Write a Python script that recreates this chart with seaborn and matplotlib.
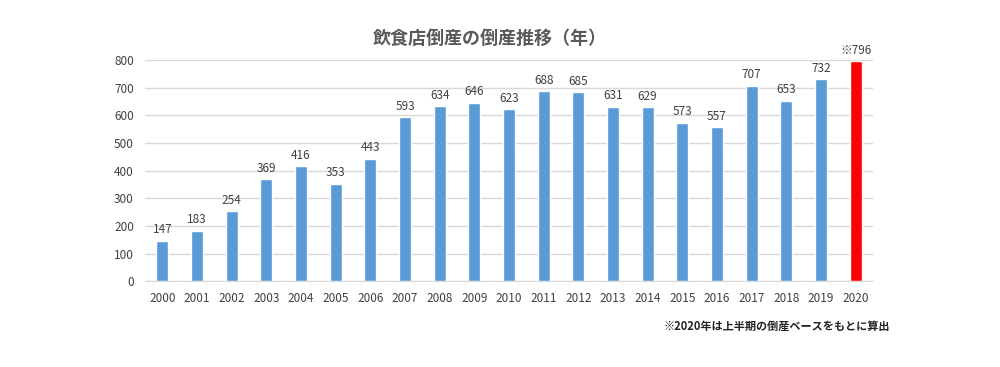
import pandas as pd
import matplotlib.pyplot as plt
import seaborn as sns

years = ['2000', '2001', '2002', '2003', '2004', '2005', '2006', '2007', '2008', '2009', '2010',
         '2011', '2012', '2013', '2014', '2015', '2016', '2017', '2018', '2019', '2020']
counts = [147, 183, 254, 369, 416, 353, 443, 593, 634, 646, 623,
          688, 685, 631, 629, 573, 557, 707, 653, 732, 796]
labels = [str(v) for v in counts[:-1]] + ['※796']
kinds = ['実績'] * 20 + ['推計']

sns.set_style('white')
plt.rcParams['font.family'] = ['Noto Sans CJK JP', 'DejaVu Sans']

df = pd.DataFrame({'year': years, 'count': counts, 'kind': kinds})

fig = plt.figure(figsize=(10, 3.67), dpi=100)
ax = fig.add_axes([0.145, 0.234, 0.728, 0.602])

sns.barplot(data=df, x='year', y='count', hue='kind', dodge=False, width=0.35, saturation=1,
            palette={'実績': '#5B9BD5', '推計': '#FF0000'}, legend=False, ax=ax, zorder=3)

for i, (v, lab) in enumerate(zip(counts, labels)):
    ax.text(i, v + 16, lab, ha='center', va='bottom', fontsize=8.5, color='#404040')

ax.set_ylim(0, 800)
ax.set_xlim(-0.5, 20.5)
ax.set_yticks(range(0, 801, 100))
ax.yaxis.grid(True, color='#D9D9D9', linewidth=1, zorder=0)
ax.set_axisbelow(True)
for s in ['top', 'right', 'left']:
    ax.spines[s].set_visible(False)
ax.spines['bottom'].set_color('#D9D9D9')
ax.tick_params(axis='both', length=0, labelsize=8.5, labelcolor='#404040', pad=8)
ax.set_xlabel('')
ax.set_ylabel('')

fig.text(0.49, 0.895, '飲食店倒産の倒産推移（年）', ha='center', va='center',
         fontsize=13, fontweight='bold', color='#595959')
fig.text(0.89, 0.11, '※2020年は上半期の倒産ベースをもとに算出', ha='right', va='center',
         fontsize=8, fontweight='bold', color='#222222')

fig.savefig('out.png', dpi=100)
